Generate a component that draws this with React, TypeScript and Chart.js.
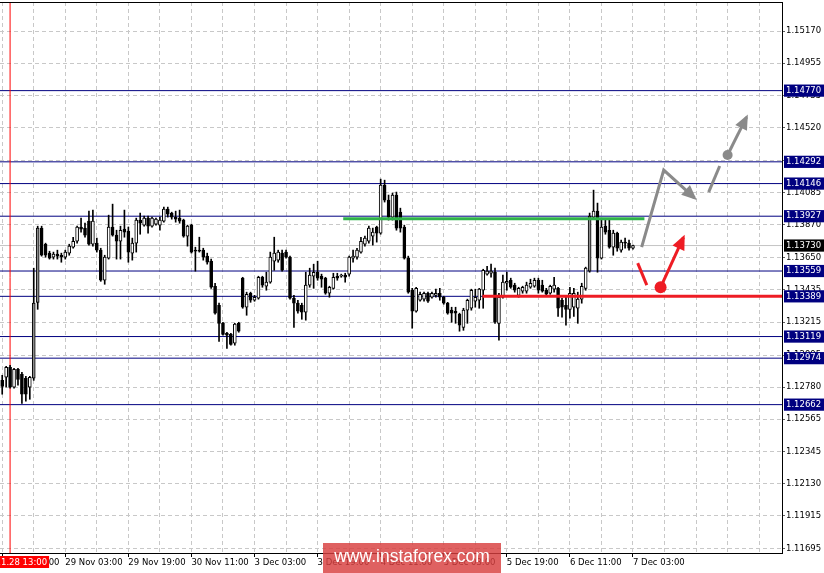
import React, { useEffect, useRef } from 'react';
import { Chart, registerables } from 'chart.js';

Chart.register(...registerables);

// ---- Candle data (EURUSD H1) ----
const opens = [
  1.12825, 1.12846, 1.12913, 1.12779, 1.12899, 1.12866, 1.12839, 1.12779, 1.12839, 1.13349,
  1.13847, 1.13739, 1.13679, 1.13652, 1.13672, 1.13665, 1.13652, 1.13679, 1.13719, 1.13759,
  1.13854, 1.13847, 1.13894, 1.13739, 1.13746, 1.13699, 1.13497, 1.13645, 1.13854, 1.13800,
  1.13759, 1.13840, 1.13827, 1.13679, 1.13746, 1.13901, 1.13867, 1.13914, 1.13860, 1.13874,
  1.13867, 1.13894, 1.13975, 1.13948, 1.13921, 1.13914, 1.13901, 1.13793, 1.13867, 1.13699,
  1.13699, 1.13699, 1.13659, 1.13625, 1.13457, 1.13329, 1.13208, 1.13141, 1.13134, 1.13074,
  1.13208, 1.13511, 1.13316, 1.13410, 1.13363, 1.13376, 1.13517, 1.13457, 1.13484, 1.13625,
  1.13632, 1.13679, 1.13686, 1.13652, 1.13376, 1.13343, 1.13329, 1.13282, 1.13464, 1.13524,
  1.13551, 1.13524, 1.13511, 1.13410, 1.13443, 1.13524, 1.13524, 1.13531, 1.13538, 1.13645,
  1.13652, 1.13686, 1.13739, 1.13759, 1.13793, 1.13854, 1.13813, 1.14136, 1.14035, 1.13921,
  1.14069, 1.13954, 1.13854, 1.13645, 1.13430, 1.13289, 1.13363, 1.13370, 1.13410, 1.13383,
  1.13396, 1.13410, 1.13383, 1.13343, 1.13296, 1.13289, 1.13269, 1.13181, 1.13296, 1.13309,
  1.13356, 1.13363, 1.13430, 1.13538, 1.13544, 1.13551, 1.13208, 1.13383, 1.13477, 1.13497,
  1.13464, 1.13396, 1.13423, 1.13423, 1.13450, 1.13457, 1.13497, 1.13464, 1.13430, 1.13410,
  1.13437, 1.13443, 1.13363, 1.13329, 1.13302, 1.13316, 1.13309, 1.13370, 1.13443, 1.13558,
  1.13921, 1.13961, 1.13645, 1.13860, 1.13833, 1.13719, 1.13813, 1.13699, 1.13753, 1.13746,
  1.13712,
];
const highs = [
  1.12859, 1.12920, 1.12926, 1.12906, 1.12906, 1.12879, 1.12852, 1.12852, 1.13578, 1.13860,
  1.13860, 1.13746, 1.13692, 1.13686, 1.13699, 1.13679, 1.13699, 1.13739, 1.13786, 1.13860,
  1.13914, 1.13880, 1.13961, 1.13968, 1.13780, 1.13712, 1.13665, 1.13934, 1.14008, 1.13833,
  1.13860, 1.13968, 1.13854, 1.13780, 1.13914, 1.13948, 1.13928, 1.13928, 1.13921, 1.13914,
  1.13921, 1.13988, 1.13988, 1.13954, 1.13961, 1.13968, 1.13907, 1.13867, 1.13874, 1.13719,
  1.13786, 1.13712, 1.13679, 1.13639, 1.13477, 1.13343, 1.13215, 1.13148, 1.13141, 1.13208,
  1.13215, 1.13517, 1.13417, 1.13417, 1.13396, 1.13524, 1.13524, 1.13551, 1.13686, 1.13786,
  1.13699, 1.13699, 1.13699, 1.13659, 1.13396, 1.13363, 1.13343, 1.13551, 1.13578, 1.13605,
  1.13625, 1.13538, 1.13517, 1.13457, 1.13544, 1.13544, 1.13538, 1.13544, 1.13659, 1.13699,
  1.13712, 1.13786, 1.13793, 1.13860, 1.13847, 1.13860, 1.14176, 1.14169, 1.14069, 1.14082,
  1.14089, 1.13981, 1.13867, 1.13659, 1.13443, 1.13450, 1.13417, 1.13417, 1.13417, 1.13417,
  1.13437, 1.13443, 1.13390, 1.13349, 1.13316, 1.13316, 1.13276, 1.13309, 1.13370, 1.13437,
  1.13437, 1.13443, 1.13571, 1.13591, 1.13605, 1.13578, 1.13410, 1.13531, 1.13551, 1.13511,
  1.13477, 1.13450, 1.13457, 1.13484, 1.13504, 1.13511, 1.13511, 1.13497, 1.13443, 1.13464,
  1.13517, 1.13450, 1.13376, 1.13396, 1.13450, 1.13443, 1.13417, 1.13477, 1.13585, 1.13948,
  1.14102, 1.14015, 1.13914, 1.13907, 1.13901, 1.13833, 1.13820, 1.13766, 1.13780, 1.13766,
  1.13733,
];
const lows = [
  1.12732, 1.12779, 1.12772, 1.12772, 1.12792, 1.12671, 1.12685, 1.12698, 1.12825, 1.13302,
  1.13659, 1.13652, 1.13639, 1.13639, 1.13639, 1.13618, 1.13639, 1.13665, 1.13712, 1.13746,
  1.13820, 1.13786, 1.13733, 1.13726, 1.13686, 1.13490, 1.13470, 1.13639, 1.13793, 1.13639,
  1.13639, 1.13786, 1.13618, 1.13632, 1.13686, 1.13806, 1.13860, 1.13813, 1.13854, 1.13867,
  1.13833, 1.13887, 1.13921, 1.13907, 1.13887, 1.13880, 1.13786, 1.13726, 1.13679, 1.13558,
  1.13686, 1.13632, 1.13605, 1.13443, 1.13269, 1.13087, 1.13128, 1.13040, 1.13061, 1.13061,
  1.13148, 1.13309, 1.13262, 1.13349, 1.13356, 1.13370, 1.13450, 1.13430, 1.13477, 1.13564,
  1.13618, 1.13558, 1.13645, 1.13370, 1.13181, 1.13276, 1.13235, 1.13229, 1.13450, 1.13443,
  1.13497, 1.13450, 1.13403, 1.13383, 1.13437, 1.13497, 1.13517, 1.13484, 1.13524, 1.13618,
  1.13639, 1.13679, 1.13726, 1.13746, 1.13733, 1.13753, 1.13806, 1.14022, 1.13901, 1.13901,
  1.13833, 1.13820, 1.13639, 1.13410, 1.13175, 1.13282, 1.13356, 1.13356, 1.13349, 1.13376,
  1.13383, 1.13363, 1.13336, 1.13269, 1.13215, 1.13208, 1.13155, 1.13161, 1.13208, 1.13296,
  1.13316, 1.13309, 1.13309, 1.13531, 1.13517, 1.13208, 1.13094, 1.13376, 1.13430, 1.13443,
  1.13417, 1.13383, 1.13410, 1.13410, 1.13443, 1.13450, 1.13410, 1.13417, 1.13396, 1.13403,
  1.13417, 1.13255, 1.13249, 1.13195, 1.13242, 1.13255, 1.13208, 1.13343, 1.13430, 1.13551,
  1.13907, 1.13551, 1.13639, 1.13806, 1.13712, 1.13665, 1.13692, 1.13686, 1.13712, 1.13699,
  1.13706,
];
const closes = [
  1.12785, 1.12913, 1.12779, 1.12899, 1.12832, 1.12732, 1.12732, 1.12846, 1.13343, 1.13847,
  1.13665, 1.13665, 1.13645, 1.13672, 1.13659, 1.13652, 1.13686, 1.13726, 1.13759, 1.13854,
  1.13840, 1.13800, 1.13739, 1.13894, 1.13699, 1.13497, 1.13652, 1.13854, 1.13800, 1.13759,
  1.13833, 1.13820, 1.13686, 1.13746, 1.13901, 1.13880, 1.13914, 1.13860, 1.13914, 1.13907,
  1.13901, 1.13975, 1.13941, 1.13921, 1.13907, 1.13894, 1.13793, 1.13860, 1.13686, 1.13692,
  1.13692, 1.13652, 1.13618, 1.13450, 1.13276, 1.13208, 1.13134, 1.13128, 1.13067, 1.13202,
  1.13155, 1.13316, 1.13403, 1.13363, 1.13383, 1.13517, 1.13464, 1.13484, 1.13652, 1.13679,
  1.13686, 1.13564, 1.13652, 1.13376, 1.13343, 1.13289, 1.13282, 1.13464, 1.13531, 1.13551,
  1.13511, 1.13504, 1.13410, 1.13450, 1.13517, 1.13511, 1.13531, 1.13517, 1.13652, 1.13659,
  1.13699, 1.13759, 1.13780, 1.13847, 1.13820, 1.13813, 1.14136, 1.14035, 1.13921, 1.14069,
  1.13847, 1.13847, 1.13645, 1.13417, 1.13289, 1.13443, 1.13403, 1.13410, 1.13356, 1.13410,
  1.13410, 1.13383, 1.13343, 1.13276, 1.13276, 1.13276, 1.13195, 1.13296, 1.13363, 1.13430,
  1.13383, 1.13437, 1.13564, 1.13558, 1.13558, 1.13215, 1.13383, 1.13484, 1.13490, 1.13450,
  1.13430, 1.13443, 1.13450, 1.13464, 1.13477, 1.13497, 1.13430, 1.13423, 1.13403, 1.13457,
  1.13464, 1.13309, 1.13316, 1.13302, 1.13410, 1.13410, 1.13370, 1.13457, 1.13578, 1.13928,
  1.13961, 1.13645, 1.13854, 1.13820, 1.13719, 1.13813, 1.13712, 1.13753, 1.13746, 1.13712,
  1.13730,
];

// ---- Axis labels / ticks ----
const xTickLabels = [
  '28 Nov 11:00', '29 Nov 03:00', '29 Nov 19:00', '30 Nov 11:00', '3 Dec 03:00', '3 Dec 19:00',
  '4 Dec 11:00', '5 Dec 03:00', '5 Dec 19:00', '6 Dec 11:00', '7 Dec 03:00',
];
const xGridIndices = [0, 8, 16, 24, 32, 40, 48, 56, 64, 72, 80, 88, 96, 104, 112, 120, 128, 136, 144, 152, 160, 168, 176, 184, 192];
const yTicks = [
  1.15170, 1.14955, 1.14735, 1.14520, 1.14300, 1.14085, 1.13870, 1.13650, 1.13435,
  1.13215, 1.12995, 1.12780, 1.12565, 1.12345, 1.12130, 1.11915, 1.11695,
];
const levelValues = [1.14770, 1.14292, 1.14146, 1.13927, 1.13559, 1.13389, 1.13119, 1.12974, 1.12662];
const currentPrice = 1.13730;
const cursorIndex = 2;
const cursorLabel = '2018.11.28 13:00';
const watermark = 'www.instaforex.com';

// ---- Drawn objects (bar index, price) ----
const greenLine = [[86.5, 1.13910], [162.9, 1.13910]];
const redLine = [[121.8, 1.13389], [199, 1.13389]];
const grayPath = [[162.2, 1.13719], [167.8, 1.14237], [175.6, 1.14050]];
const grayDash = [[179.2, 1.14089], [182.0, 1.14264]];
const grayUp = [[184.0, 1.14338], [188.8, 1.14592]];
const redDash = [[161.2, 1.13612], [163.5, 1.13464]];
const redUp = [[167.0, 1.13450], [172.8, 1.13785]];

const X_MIN = -0.56;
const X_MAX = 197.8;
const Y_MIN = 1.11666;
const Y_MAX = 1.15365;

const FONT = '"DejaVu Sans", Tahoma, sans-serif';
const FONT_SIZE = 8.5;

const isRegularTick = (v: number) => yTicks.some((t) => Math.abs(t - v) < 1e-9);

const toPts = (arr: number[][]) => arr.map(([x, y]) => ({ x, y }));

const zeroPadding = (axis: any) => {
  axis.paddingLeft = 0;
  axis.paddingRight = 0;
  axis.paddingTop = 0;
  axis.paddingBottom = 0;
};

const overlayPlugin = {
  id: 'overlay',
  afterDatasetsDraw(chart: any) {
    const ctx = chart.ctx;
    chart.data.datasets.forEach((ds: any, i: number) => {
      if (!ds.arrowHead) return;
      const pts = chart.getDatasetMeta(i).data;
      const a = pts[pts.length - 2];
      const b = pts[pts.length - 1];
      const ang = Math.atan2(b.y - a.y, b.x - a.x);
      const L = 15;
      const H = 6.5;
      const tx = b.x + 3 * Math.cos(ang);
      const ty = b.y + 3 * Math.sin(ang);
      ctx.save();
      ctx.fillStyle = ds.borderColor;
      ctx.beginPath();
      ctx.moveTo(tx, ty);
      ctx.lineTo(tx - L * Math.cos(ang) + H * Math.sin(ang), ty - L * Math.sin(ang) - H * Math.cos(ang));
      ctx.lineTo(tx - L * Math.cos(ang) - H * Math.sin(ang), ty - L * Math.sin(ang) + H * Math.cos(ang));
      ctx.closePath();
      ctx.fill();
      ctx.restore();
    });
  },
  afterDraw(chart: any) {
    const { ctx, chartArea, scales } = chart;
    ctx.save();
    // top frame
    ctx.strokeStyle = '#000';
    ctx.lineWidth = 1;
    ctx.beginPath();
    ctx.moveTo(chartArea.left, chartArea.top + 0.5);
    ctx.lineTo(chartArea.right, chartArea.top + 0.5);
    ctx.stroke();

    // cursor time label
    const cx = scales.x.getPixelForValue(cursorIndex);
    ctx.font = `${FONT_SIZE}px ${FONT}`;
    const tw = ctx.measureText(cursorLabel).width;
    const right = cx + 39;
    ctx.fillStyle = '#ff0000';
    ctx.fillRect(right - tw - 5, chartArea.bottom + 3, tw + 5, 12);
    ctx.fillStyle = '#ffffff';
    ctx.textAlign = 'right';
    ctx.textBaseline = 'middle';
    ctx.fillText(cursorLabel, right - 2, chartArea.bottom + 9.5);

    // watermark
    ctx.fillStyle = 'rgba(216, 62, 62, 0.82)';
    ctx.fillRect(323, chartArea.bottom - 10, 178, 30);
    ctx.fillStyle = '#ffffff';
    ctx.font = '17.5px "Liberation Sans", Arial, sans-serif';
    ctx.textAlign = 'center';
    ctx.textBaseline = 'middle';
    ctx.fillText(watermark, 412, chartArea.bottom + 4);
    ctx.restore();
  },
};

export default function App() {
  const canvasRef = useRef<HTMLCanvasElement | null>(null);

  useEffect(() => {
    const canvas = canvasRef.current;
    if (!canvas) return;

    const bodies = opens.map((o, i) => ({ x: i, y: [o, closes[i]] }));
    const wicks = lows.map((l, i) => ({ x: i, y: [l, highs[i]] }));

    const hLine = (v: number) => [{ x: -2, y: v }, { x: 202, y: v }];

    const lineBase = {
      type: 'line' as const,
      pointRadius: 0,
      fill: false,
      tension: 0,
      borderCapStyle: 'butt',
    };

    const datasets: any[] = [
      ...levelValues.map((v) => ({
        ...lineBase,
        data: hLine(v),
        borderColor: '#000080',
        borderWidth: 1,
        order: 50,
      })),
      {
        ...lineBase,
        data: hLine(currentPrice),
        borderColor: '#c4c4c4',
        borderWidth: 1,
        order: 49,
      },
      {
        ...lineBase,
        data: [{ x: cursorIndex, y: Y_MIN }, { x: cursorIndex, y: Y_MAX }],
        borderColor: '#ff0000',
        borderWidth: 1,
        order: 48,
      },
      {
        type: 'bar',
        data: wicks,
        backgroundColor: '#000',
        borderWidth: 0,
        barThickness: 1,
        grouped: false,
        minBarLength: 1,
        order: 20,
      },
      {
        type: 'bar',
        data: bodies,
        backgroundColor: (c: any) => {
          const i = c.dataIndex;
          const o = opens[i];
          const cl = closes[i];
          if (cl < o) return '#000';
          return cl - o > 0.0034 ? '#8c8c8c' : '#fff';
        },
        borderColor: '#000',
        borderWidth: 1,
        borderSkipped: false,
        barThickness: 3,
        grouped: false,
        minBarLength: 1,
        order: 10,
      },
      { ...lineBase, data: toPts(greenLine), borderColor: '#2fb34a', borderWidth: 3, order: 5 },
      { ...lineBase, data: toPts(redLine), borderColor: '#ee1c24', borderWidth: 3, order: 5 },
      { ...lineBase, data: toPts(grayPath), borderColor: '#8a8a8a', borderWidth: 3, order: 1, arrowHead: true, borderJoinStyle: 'miter' },
      { ...lineBase, data: toPts(grayDash), borderColor: '#8a8a8a', borderWidth: 3, order: 1 },
      {
        ...lineBase,
        data: toPts(grayUp),
        borderColor: '#8a8a8a',
        borderWidth: 3,
        pointRadius: [5, 0],
        pointBackgroundColor: '#8a8a8a',
        pointBorderWidth: 0,
        order: 1,
        arrowHead: true,
      },
      { ...lineBase, data: toPts(redDash), borderColor: '#ee1c24', borderWidth: 3, order: 1 },
      {
        ...lineBase,
        data: toPts(redUp),
        borderColor: '#ee1c24',
        borderWidth: 3,
        pointRadius: [6, 0],
        pointBackgroundColor: '#ee1c24',
        pointBorderWidth: 0,
        order: 1,
        arrowHead: true,
      },
    ];

    const chart = new Chart(canvas, {
      type: 'bar',
      data: { datasets },
      options: {
        animation: false,
        responsive: false,
        maintainAspectRatio: false,
        devicePixelRatio: 1,
        events: [],
        layout: { autoPadding: false, padding: { top: 2, left: 0, right: 0, bottom: 0 } },
        plugins: { legend: { display: false }, tooltip: { enabled: false } },
        scales: {
          x: {
            type: 'linear',
            min: X_MIN,
            max: X_MAX,
            bounds: 'data',
            offset: false,
            afterBuildTicks: (axis: any) => {
              axis.ticks = xGridIndices.map((v) => ({ value: v }));
            },
            afterFit: (axis: any) => {
              axis.height = 20;
              zeroPadding(axis);
            },
            grid: {
              offset: false,
              color: '#c8c8c8',
              lineWidth: 1,
              drawTicks: true,
              tickLength: 4,
              tickColor: (c: any) =>
                c.tick && c.tick.value % 16 === 0 && c.tick.value / 16 < xTickLabels.length ? '#000' : 'rgba(0,0,0,0)',
            },
            border: { display: true, color: '#000', width: 1, dash: [4, 3] },
            ticks: {
              autoSkip: false,
              maxRotation: 0,
              minRotation: 0,
              align: 'start',
              padding: 1,
              color: '#000',
              font: { family: FONT, size: FONT_SIZE },
              callback: (v: any) => {
                const n = Number(v);
                if (n % 16 !== 0) return '';
                const lbl = xTickLabels[n / 16];
                return lbl ? lbl : '';
              },
            },
          },
          y: {
            type: 'linear',
            position: 'right',
            min: Y_MIN,
            max: Y_MAX,
            bounds: 'data',
            afterBuildTicks: (axis: any) => {
              axis.ticks = [...yTicks, currentPrice, ...levelValues].map((v) => ({ value: v }));
            },
            afterFit: (axis: any) => {
              axis.width = 42;
              zeroPadding(axis);
            },
            grid: {
              color: (c: any) => (c.tick && isRegularTick(c.tick.value) ? '#c8c8c8' : 'rgba(0,0,0,0)'),
              lineWidth: 1,
              drawTicks: true,
              tickLength: 3,
              tickColor: (c: any) => (c.tick && isRegularTick(c.tick.value) ? '#606060' : 'rgba(0,0,0,0)'),
            },
            border: { display: true, color: '#000', width: 1, dash: [4, 3] },
            ticks: {
              autoSkip: false,
              padding: 1,
              font: { family: FONT, size: FONT_SIZE },
              color: (c: any) => (c.tick && isRegularTick(c.tick.value) ? '#000' : '#fff'),
              showLabelBackdrop: (c: any) => !!(c.tick && !isRegularTick(c.tick.value)),
              backdropColor: (c: any) =>
                c.tick && Math.abs(c.tick.value - currentPrice) < 1e-9 ? '#000000' : '#000080',
              backdropPadding: { left: 2, right: 3, top: 1, bottom: 1 },
              callback: (v: any) => Number(v).toFixed(5),
            },
          },
        },
      } as any,
      plugins: [overlayPlugin],
    } as any);

    return () => {
      chart.destroy();
    };
  }, []);

  return (
    <div style={{ position: 'fixed', left: 0, top: 0, width: 824, height: 573, background: '#fff' }}>
      <canvas ref={canvasRef} width={824} height={573} style={{ width: 824, height: 573, display: 'block' }} />
    </div>
  );
}
